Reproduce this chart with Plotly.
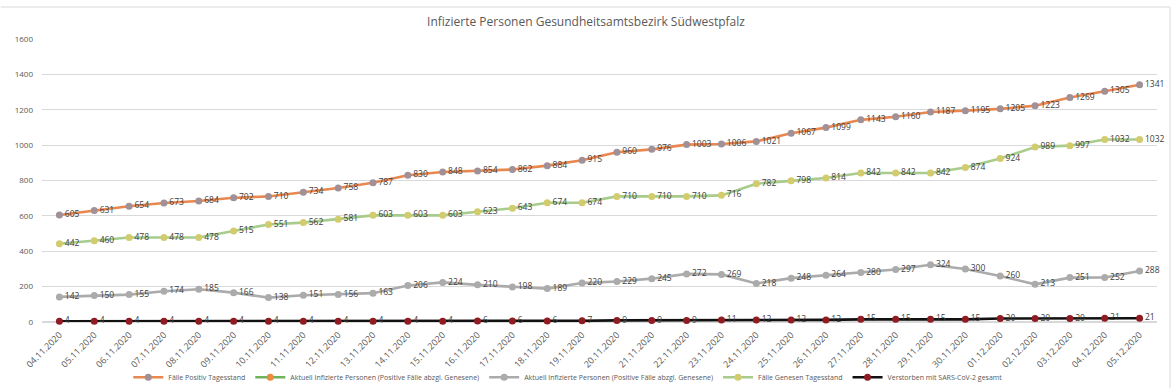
import plotly.graph_objects as go

dates = ["04.11.2020", "05.11.2020", "06.11.2020", "07.11.2020", "08.11.2020", "09.11.2020",
         "10.11.2020", "11.11.2020", "12.11.2020", "13.11.2020", "14.11.2020", "15.11.2020",
         "16.11.2020", "17.11.2020", "18.11.2020", "19.11.2020", "20.11.2020", "21.11.2020",
         "22.11.2020", "23.11.2020", "24.11.2020", "25.11.2020", "26.11.2020", "27.11.2020",
         "28.11.2020", "29.11.2020", "30.11.2020", "01.12.2020", "02.12.2020", "03.12.2020",
         "04.12.2020", "05.12.2020"]

positiv = [605, 631, 654, 673, 684, 702, 710, 734, 758, 787, 830, 848, 854, 862, 884, 915,
           960, 976, 1003, 1006, 1021, 1067, 1099, 1143, 1160, 1187, 1195, 1205, 1223, 1269, 1305, 1341]
aktuell_hidden = [None] * len(dates)
aktuell = [142, 150, 155, 174, 185, 166, 138, 151, 156, 163, 206, 224, 210, 198, 189, 220,
           229, 245, 272, 269, 218, 248, 264, 280, 297, 324, 300, 260, 213, 251, 252, 288]
genesen = [442, 460, 478, 478, 478, 515, 551, 562, 581, 603, 603, 603, 623, 643, 674, 674,
           710, 710, 710, 716, 782, 798, 814, 842, 842, 842, 874, 924, 989, 997, 1032, 1032]
verstorben = [4, 4, 4, 4, 4, 4, 4, 4, 4, 4, 4, 4, 6, 6, 6, 7,
              9, 9, 9, 11, 12, 12, 12, 15, 15, 15, 15, 20, 20, 20, 21, 21]

names = ["Fälle Positiv Tagesstand",
         "Aktuell Infizierte Personen (Positive Fälle abzgl. Genesene)",
         "Aktuell Infizierte Personen (Positive Fälle abzgl. Genesene)",
         "Fälle Genesen Tagesstand",
         "Verstorben mit SARS-CoV-2 gesamt"]

series = [positiv, aktuell_hidden, aktuell, genesen, verstorben]
line_colors = ["#E9874F", "#6FB35A", "#ABABAB", "#A8CC8C", "#111111"]
marker_colors = ["#A09098", "#EE8A40", "#ABABAB", "#D2CC6E", "#8E1C22"]

fig = go.Figure()
for name, ys, lc, mc in zip(names, series, line_colors, marker_colors):
    fig.add_trace(go.Scatter(
        x=dates, y=ys, name=name, mode="lines+markers+text",
        line=dict(color=lc, width=2.6),
        marker=dict(color=mc, size=7),
        text=[str(v) if v is not None else "" for v in ys],
        textposition="middle right",
        textfont=dict(size=8.5, color="#404040", family="Open Sans"),
        cliponaxis=False,
    ))

fig.update_layout(
    width=1172, height=388,
    margin=dict(l=42, r=15, t=39, b=66, autoexpand=False),
    paper_bgcolor="white", plot_bgcolor="white",
    font=dict(family="Open Sans", color="#595959"),
    title=dict(text="Infizierte Personen Gesundheitsamtsbezirk Südwestpfalz",
               x=0.5, xref="container", xanchor="center", y=0.943, yref="container",
               yanchor="middle", font=dict(size=12, color="#595959")),
    showlegend=True,
    legend=dict(orientation="h", x=0.472, xanchor="center", y=-0.195, yanchor="middle",
                font=dict(size=7, color="#595959"), itemwidth=30, bgcolor="rgba(0,0,0,0)"),
    shapes=[
        dict(type="line", xref="paper", yref="paper", x0=-0.037, x1=1.0117, y0=1.113, y1=1.113,
             line=dict(color="#D9D9D9", width=1)),
        dict(type="line", xref="paper", yref="paper", x0=1.0117, x1=1.0117, y0=1.113, y1=-0.25,
             line=dict(color="#D9D9D9", width=1)),
    ],
)
fig.update_xaxes(type="category", range=[-0.5, len(dates) - 0.5], tickangle=-45,
                 showgrid=False, showline=False, ticks="", automargin=False,
                 ticklabelstandoff=5,
                 tickfont=dict(size=9, color="#595959"))
fig.update_yaxes(range=[0, 1600], dtick=200, showgrid=True, gridcolor="#D9D9D9", gridwidth=1,
                 zeroline=True, zerolinecolor="#D9D9D9", showline=False, ticks="", automargin=False,
                 ticklabelstandoff=8,
                 tickfont=dict(size=8, color="#595959"))

fig.write_html("out.html", config={"displayModeBar": False},
               post_script="document.body.style.margin='0px';")
